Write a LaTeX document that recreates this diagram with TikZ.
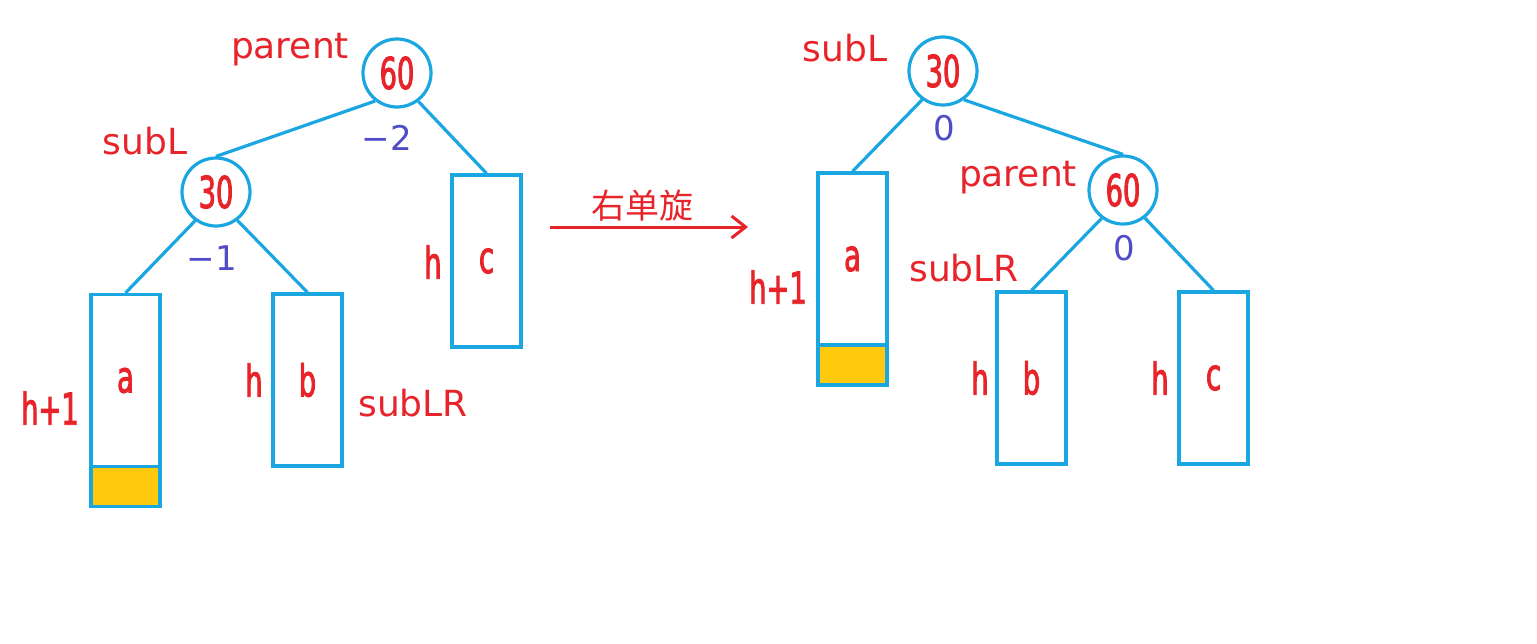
\documentclass[tikz,border=0pt]{standalone}
\usepackage{fontspec}
\usepackage{xcolor}
\usetikzlibrary{arrows.meta,positioning}
\setmainfont{DejaVu Sans}
\newfontfamily\numfont[FakeStretch=0.62,FakeBold=2]{DejaVu Sans}
\newfontfamily\cjkfont{Noto Sans CJK SC}
\definecolor{treeblue}{RGB}{26,166,224}
\definecolor{labelred}{RGB}{232,36,43}
\definecolor{balblue}{RGB}{80,76,200}
\definecolor{growyellow}{RGB}{255,201,14}

\begin{document}
\begin{tikzpicture}[
  x=0.5pt, y=-0.5pt,
  every node/.style={inner sep=0pt},
  keynode/.style={circle, draw=treeblue, line width=1.6pt, minimum size=34pt, text=labelred, font=\numfont\fontsize{22}{22}\selectfont},
  subtree/.style={draw=treeblue, line width=1.6pt, minimum width=34.5pt, minimum height=86pt, text=labelred, font=\numfont\fontsize{22}{22}\selectfont},
  grown/.style={draw=treeblue, fill=growyellow, line width=1.6pt, minimum width=34.5pt, minimum height=20pt},
  hlabel/.style={text=labelred, font=\numfont\fontsize{22}{22}\selectfont},
  ptr/.style={text=labelred, font=\fontsize{18}{18}\selectfont},
  bal/.style={text=balblue, font=\fontsize{17}{17}\selectfont},
  link/.style={treeblue, line width=1.6pt},
  turn/.style={labelred, line width=1.5pt, -{Straight Barb[length=7pt,width=11pt]}}
]
\useasboundingbox[fill=white] (0,0) rectangle (1537,643);

% before: left-left case
\node[keynode] (p60) at (397,73) {60};
\node[keynode] (s30) at (216,192) {30};
\node[subtree] (a) at (125.5,380.5) {a};
\node[grown, below=-1.6pt of a] (ax) {};
\node[subtree] (b) at (307.5,380) {b};
\node[subtree] (c) at (486.5,261) {c};

\draw[link] (p60.-128) -- (s30.north);
\draw[link] (p60.-53) -- (c.north);
\draw[link] (s30.-126) -- (a.north);
\draw[link] (s30.-53) -- (b.north);

\node[ptr] (lparent) at (290,50) {parent};
\node[ptr] (lsubl) at (145,141) {subL};
\node[ptr] (lsublr) at (413,403) {subLR};
\node[bal] (lbal60) at (387,138) {−2};
\node[bal] (lbal30) at (212,258) {−1};
\node[hlabel] (lha) at (50,408) {h+1};
\node[hlabel] (lhb) at (254,380) {h};
\node[hlabel] (lhc) at (433,262) {h};

% rotation
\coordinate (rotfrom) at (550,227);
\coordinate (rotto) at (748,227);
\draw[turn] (rotfrom) -- (rotto);
\node[text=labelred, font=\cjkfont\fontsize{17}{17}\selectfont] (rot) at (642,206) {右单旋};

% after
\node[keynode] (rs30) at (943,71) {30};
\node[keynode] (rp60) at (1123,190) {60};
\node[subtree] (ra) at (852.5,259) {a};
\node[grown, below=-1.6pt of ra] (rax) {};
\node[subtree] (rb) at (1031.5,378) {b};
\node[subtree] (rc) at (1213.5,378) {c};

\draw[link] (rs30.-126) -- (ra.north);
\draw[link] (rs30.-54) -- (rp60.north);
\draw[link] (rp60.-127) -- (rb.north);
\draw[link] (rp60.-52) -- (rc.north);

\node[ptr] (rsubl) at (845,48) {subL};
\node[ptr] (rparent) at (1018,178) {parent};
\node[ptr] (rsublr) at (964,268) {subLR};
\node[bal] (rbal30) at (944,128) {0};
\node[bal] (rbal60) at (1124,248) {0};
\node[hlabel] (rha) at (778,287) {h+1};
\node[hlabel] (rhb) at (980,378) {h};
\node[hlabel] (rhc) at (1160,378) {h};
\end{tikzpicture}
\end{document}
